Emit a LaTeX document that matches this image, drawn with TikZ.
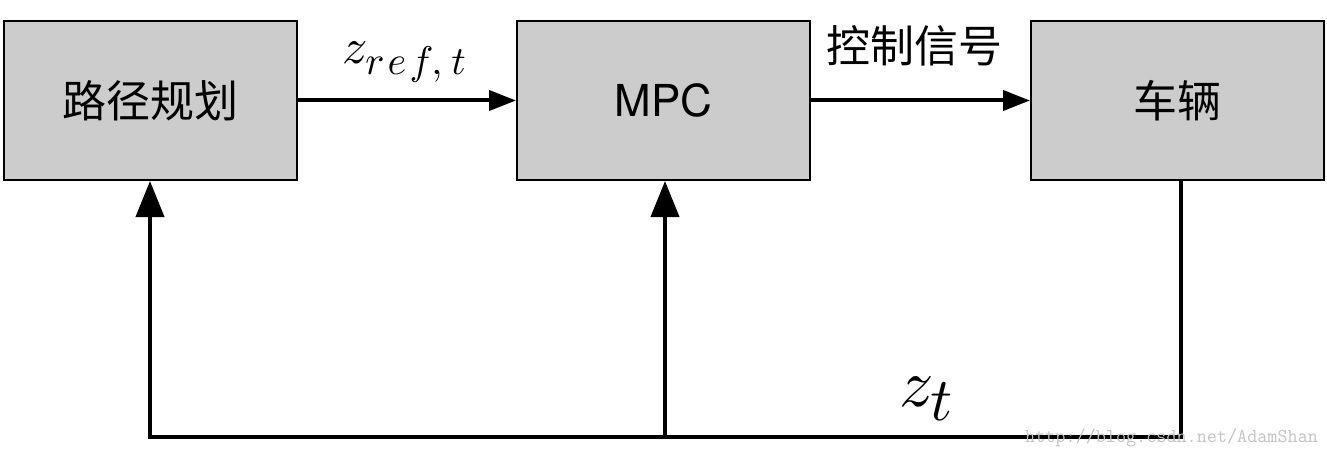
\documentclass[tikz,border=0pt]{standalone}
\usepackage{fontspec}
\usepackage{graphicx}
\setmainfont{TeX Gyre Heros}
\newfontfamily\cjk{Noto Sans CJK SC}
\usetikzlibrary{arrows.meta}
\definecolor{boxgray}{HTML}{CCCCCC}
\definecolor{wmgray}{HTML}{C4C4C4}
\begin{document}
\begin{tikzpicture}[x=1pt,y=-1pt,
  blk/.style={draw=black, line width=2pt, fill=boxgray, minimum width=293pt,
    minimum height=159pt, inner sep=0pt},
  cjktext/.style={font=\cjk\fontsize{44}{48}\selectfont},
  flow/.style={line width=4pt, -{Triangle[length=27pt,width=20pt]}},
  fb/.style={line width=4pt},
  uparrow/.style={line width=4pt, -{Triangle[length=36pt,width=28pt]}},
  mathlbl/.style={inner sep=0pt}
]
\useasboundingbox (0,0) rectangle (1327,449);
\fill[white] (0,0) rectangle (1327,449);

\node[blk, cjktext] (b1) at (150.5,100.5) {路径规划};
\node[blk, font=\fontsize{44}{48}\selectfont] (b2) at (663.5,100.5) {MPC};
\node[blk, cjktext] (b3) at (1177.5,100.5) {车辆};

\draw[flow] (b1.east) -- (b2.west);
\draw[flow] (b2.east) -- (b3.west);

\node[mathlbl, anchor=base west, scale=5] (lref) at (341,64)
  {$z_{\scalebox{0.8}{$\textstyle r\mkern1.5mu e\mkern1.5mu f,\mkern1mu t$}}$};
\node[cjktext, inner sep=0pt] (lctl) at (914,46) {控制信号};

\coordinate (br) at (1181,437);
\coordinate (bl) at (150,437);
\coordinate (bm) at (665,437);
\draw[uparrow, line join=miter] (b3.south -| br) -- (br) -- (bl) -- (b1.south -| bl);
\draw[uparrow] (bm) -- (b2.south -| bm);

\node[mathlbl, anchor=base west, scale=6.8] (lzt) at (898,406)
  {$z_{\scalebox{0.9}{$\textstyle t$}}$};

\node[inner sep=0pt, anchor=base west, text=wmgray, font=\ttfamily\fontsize{19.6}{20}\selectfont]
  (wm) at (1025,442) {http://blog.csdn.net/AdamShan};
\end{tikzpicture}
\end{document}
